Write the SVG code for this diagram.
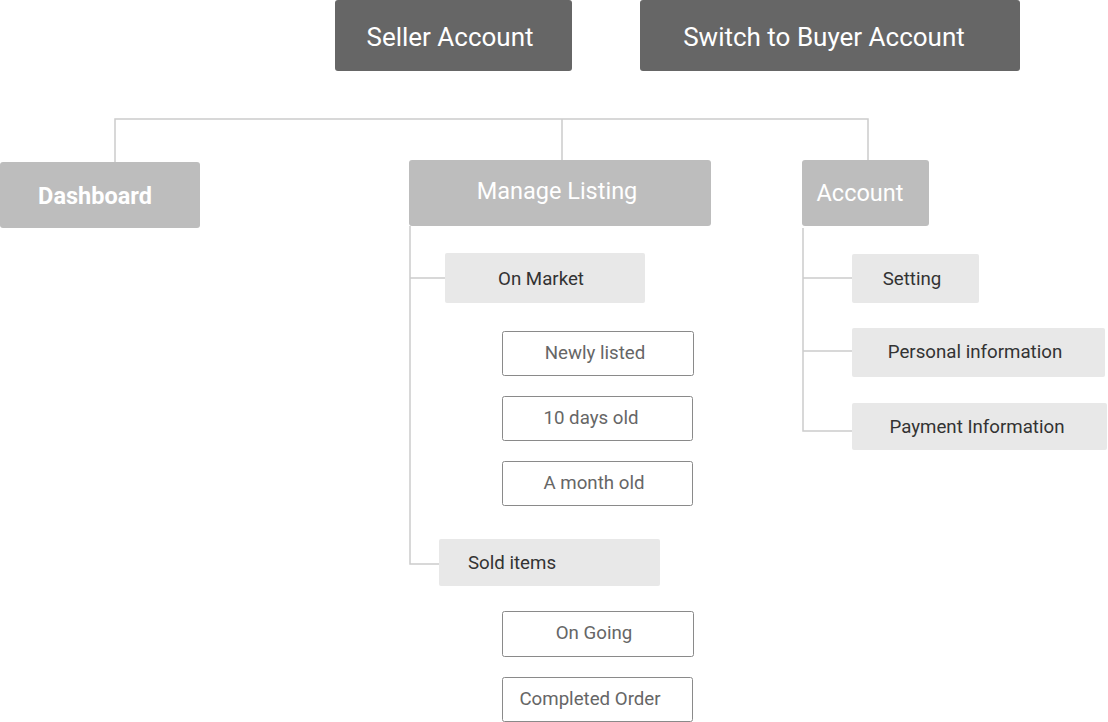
<svg xmlns="http://www.w3.org/2000/svg" width="1108" height="722" viewBox="0 0 1108 722">
<style>
.dark{fill:#666666}
.mid{fill:#bdbdbd}
.light{fill:#e8e8e8}
.out{fill:#ffffff;stroke:#8a8a8a;stroke-width:1}
.t{font-family:Roboto,"Liberation Sans",sans-serif;text-anchor:middle;dominant-baseline:central}
.tw{fill:#ffffff;font-size:26px}
.tm{fill:#ffffff;font-size:23.5px}
.tl{fill:#333333;font-size:18.7px}
.to{fill:#666666;font-size:18.7px}
.c{fill:none;stroke:#cccccc;stroke-width:1.5}
</style>
<rect width="1108" height="722" fill="#ffffff"/>
<g id="connectors">
<path class="c" d="M115 162V119H868V160M562 119V160"/>
<path class="c" d="M410 226V564H439M410 278H445"/>
<path class="c" d="M803 228V431H852M803 278H852M803 351H852"/>
</g>
<g id="seller"><rect class="dark" x="335" y="0" width="237" height="71" rx="3"/><text class="t tw" x="450" y="37">Seller Account</text></g>
<g id="buyer"><rect class="dark" x="640" y="0" width="380" height="71" rx="3"/><text class="t tw" x="824" y="37">Switch to Buyer Account</text></g>
<g id="dashboard"><rect class="mid" x="0" y="162" width="200" height="66" rx="3"/><text class="t tm" x="95" y="196" font-weight="bold" font-size="24px">Dashboard</text></g>
<g id="manage"><rect class="mid" x="409" y="160" width="302" height="66" rx="3"/><text class="t tm" x="557" y="191">Manage Listing</text></g>
<g id="account"><rect class="mid" x="802" y="160" width="127" height="66" rx="3"/><text class="t tm" x="860" y="193">Account</text></g>
<g id="onmarket"><rect class="light" x="445" y="253" width="200" height="50" rx="2"/><text class="t tl" x="541" y="279">On Market</text></g>
<g id="newly"><rect class="out" x="502.5" y="331.5" width="191" height="44" rx="2"/><text class="t to" x="595" y="353">Newly listed</text></g>
<g id="tendays"><rect class="out" x="502.5" y="396.5" width="190" height="44" rx="2"/><text class="t to" x="591" y="418">10 days old</text></g>
<g id="month"><rect class="out" x="502.5" y="461.5" width="190" height="44" rx="2"/><text class="t to" x="594" y="483">A month old</text></g>
<g id="sold"><rect class="light" x="439" y="539" width="221" height="47" rx="2"/><text class="t tl" x="512" y="563">Sold items</text></g>
<g id="ongoing"><rect class="out" x="502.5" y="611.5" width="191" height="45" rx="2"/><text class="t to" x="594" y="633">On Going</text></g>
<g id="completed"><rect class="out" x="502.5" y="677.5" width="190" height="44" rx="2"/><text class="t to" x="590" y="699">Completed Order</text></g>
<g id="setting"><rect class="light" x="852" y="254" width="127" height="49" rx="2"/><text class="t tl" x="912" y="279">Setting</text></g>
<g id="personal"><rect class="light" x="852" y="328" width="253" height="49" rx="2"/><text class="t tl" x="975" y="352">Personal information</text></g>
<g id="payment"><rect class="light" x="852" y="403" width="255" height="47" rx="2"/><text class="t tl" x="977" y="427">Payment Information</text></g>
</svg>
